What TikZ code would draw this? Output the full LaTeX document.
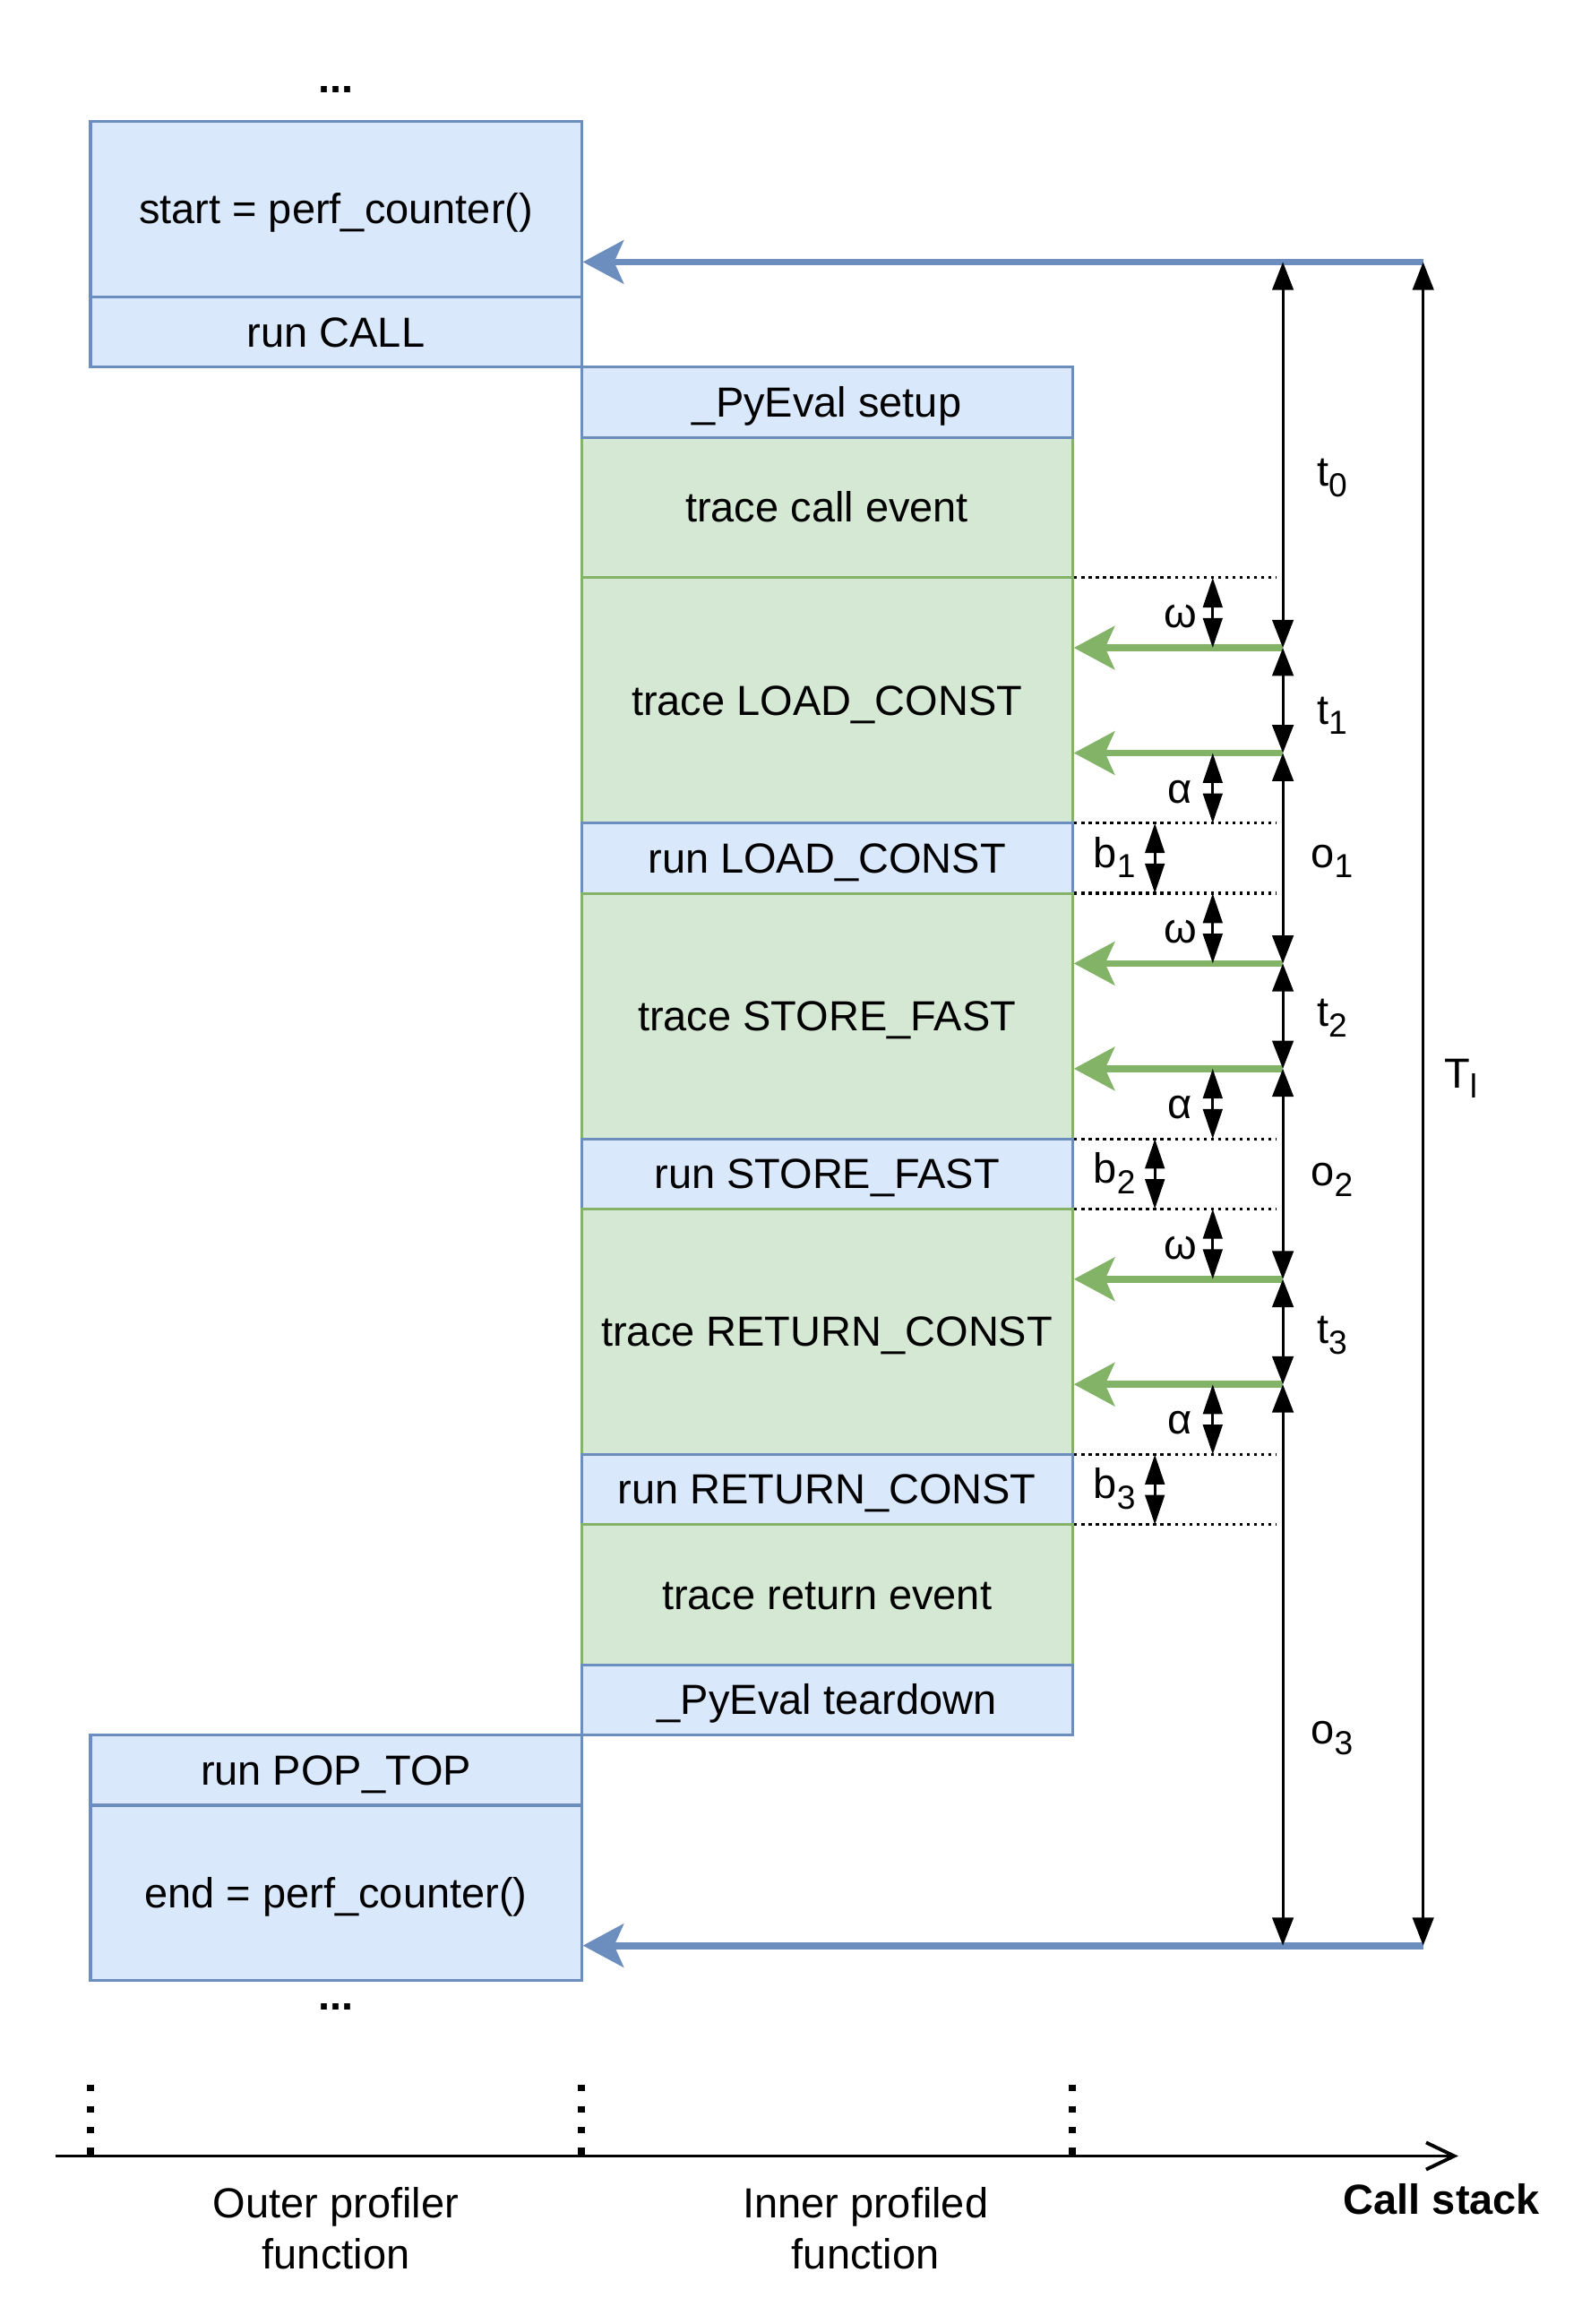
\documentclass[tikz,border=0pt]{standalone}
\usepackage{fontspec}
\setmainfont{Liberation Sans}
\usetikzlibrary{arrows.meta}
\definecolor{boxblue}{HTML}{DAE8FC}
\definecolor{lineblue}{HTML}{6C8EBF}
\definecolor{boxgreen}{HTML}{D5E8D4}
\definecolor{linegreen}{HTML}{82B366}
\newcommand\lsub[1]{\raisebox{-3pt}{\fontsize{9.5}{10}\selectfont #1}}
\begin{document}
\begin{tikzpicture}[x=1pt,y=-1pt,
        every node/.style={font=\fontsize{12}{14.4}\selectfont,inner sep=0pt},
        bold/.style={font=\fontsize{12}{14.4}\selectfont\bfseries},
        box/.style={draw,line width=0.8pt,minimum width=140pt,text height=10.86pt,text depth=2.54pt},
        bluebox/.style={box,draw=lineblue,fill=boxblue},
        greenbox/.style={box,draw=linegreen,fill=boxgreen},
        call/.style={line width=2pt,lineblue,-{Stealth[length=11.6pt,width=12.3pt,inset=2.7pt]}},
        hook/.style={line width=2pt,linegreen,-{Stealth[length=11.6pt,width=12.3pt,inset=2.7pt]}},
        span/.style={line width=0.8pt,{Triangle[length=8pt,width=6pt]}-{Triangle[length=8pt,width=6pt]}},
        gap/.style={line width=0.8pt,{Triangle[length=8.5pt,width=5.5pt]}-{Triangle[length=8.5pt,width=5.5pt]}},
        level/.style={line width=0.85pt,dash pattern=on 0.85pt off 1.2pt},
        tick/.style={line width=1.9pt,dash pattern=on 1.8pt off 4.2pt},
    ]
    \useasboundingbox (-25.8,-34.7) rectangle (425.3,627.9);
    % outer profiler frames
    \node[bold,anchor=base] (more) at (70,-8.2) {...};
    \node[bluebox,minimum height=50pt] (start) at (70,25) {start = perf\_counter()};
    \node[bluebox,minimum height=20pt] (runcall) at (70,60) {run CALL};
    % inner profiled frames
    \node[greenbox,minimum height=40pt] (tcall) at (210,110) {trace call event};
    \node[bluebox,minimum height=20pt] (setup) at (210,80) {\_PyEval setup};
    \node[greenbox,minimum height=70pt] (tload) at (210,165) {trace LOAD\_CONST};
    \node[bluebox,minimum height=20pt] (rload) at (210,210) {run LOAD\_CONST};
    \node[greenbox,minimum height=70pt] (tstore) at (210,255) {trace STORE\_FAST};
    \node[bluebox,minimum height=20pt] (rstore) at (210,300) {run STORE\_FAST};
    \node[greenbox,minimum height=70pt] (tret) at (210,345) {trace RETURN\_CONST};
    \node[bluebox,minimum height=20pt] (rret) at (210,390) {run RETURN\_CONST};
    \node[greenbox,minimum height=40pt] (treturn) at (210,420) {trace return event};
    \node[bluebox,minimum height=20pt] (teardown) at (210,450) {\_PyEval teardown};
    \node[bluebox,minimum height=20pt] (poptop) at (70,470) {run POP\_TOP};
    \node[bluebox,minimum height=50pt] (stop) at (70,505) {end = perf\_counter()};
    \node[bold,anchor=base] (less) at (70,538.3) {...};
    % timing marks
    \foreach \y [count=\i from 0] in {40,150,180,240,270,330,360,520}
        \coordinate (m\i) at (340,\y);
    \coordinate (T0) at (380,40);
    \coordinate (T1) at (380,520);
    \draw[call] (T0) -- (T0 -| start.east);
    \draw[call] (T1) -- (T1 -| stop.east);
    \foreach \i in {1,...,6}
        \draw[hook] (m\i) -- (m\i -| tload.east);
    \foreach \y in {130,200,220,290,310,380,400}
        \draw[level] (280.5,\y) -- (338,\y);
    \foreach \a/\b in {0/1,1/2,2/3,3/4,4/5,5/6,6/7}
        \draw[span] (m\a) -- (m\b);
    \draw[span] (T0) -- (T1);
    \foreach \ya/\yb/\s in {130/150/ω,180/200/α,220/240/ω,270/290/α,310/330/ω,360/380/α}{
        \draw[gap] (320,\ya) -- (320,\yb);
        \node[anchor=base] at (310.7,\ya+14.2) {\s};
    }
    \foreach \ya/\yb/\i in {200/220/1,290/310/2,380/400/3}{
        \draw[gap] (303.5,\ya) -- (303.5,\yb);
        \node[anchor=base] at (292,\ya+12.6) {b\lsub{\i}};
    }
    \node[anchor=base] (t0) at (354,104) {t\lsub{0}};
    \node[anchor=base] (t1) at (354,171.7) {t\lsub{1}};
    \node[anchor=base] (o1) at (354,212.6) {o\lsub{1}};
    \node[anchor=base] (t2) at (354,258) {t\lsub{2}};
    \node[anchor=base] (o2) at (354,303.4) {o\lsub{2}};
    \node[anchor=base] (t3) at (354,348.4) {t\lsub{3}};
    \node[anchor=base] (o3) at (354,462.5) {o\lsub{3}};
    \node[anchor=base] (Tl) at (390.7,275.4) {T\lsub{l}};
    % call stack axis
    \coordinate (ax0) at (-10,580);
    \coordinate (ax1) at (390,580);
    \foreach \x in {0,140,280}
        \draw[tick] (\x,559.7) -- (\x,580);
    \draw[line width=1pt,-{Straight Barb[length=8pt,width=7.7pt]}] (ax0) -- (ax1);
    \node[anchor=north,align=center] (outer) at (70,588.8) {Outer profiler\\function};
    \node[anchor=north,align=center] (inner) at (221,588.8) {Inner profiled\\function};
    \node[bold,anchor=base] (stack) at (385.3,596.6) {Call stack};
\end{tikzpicture}
\end{document}
